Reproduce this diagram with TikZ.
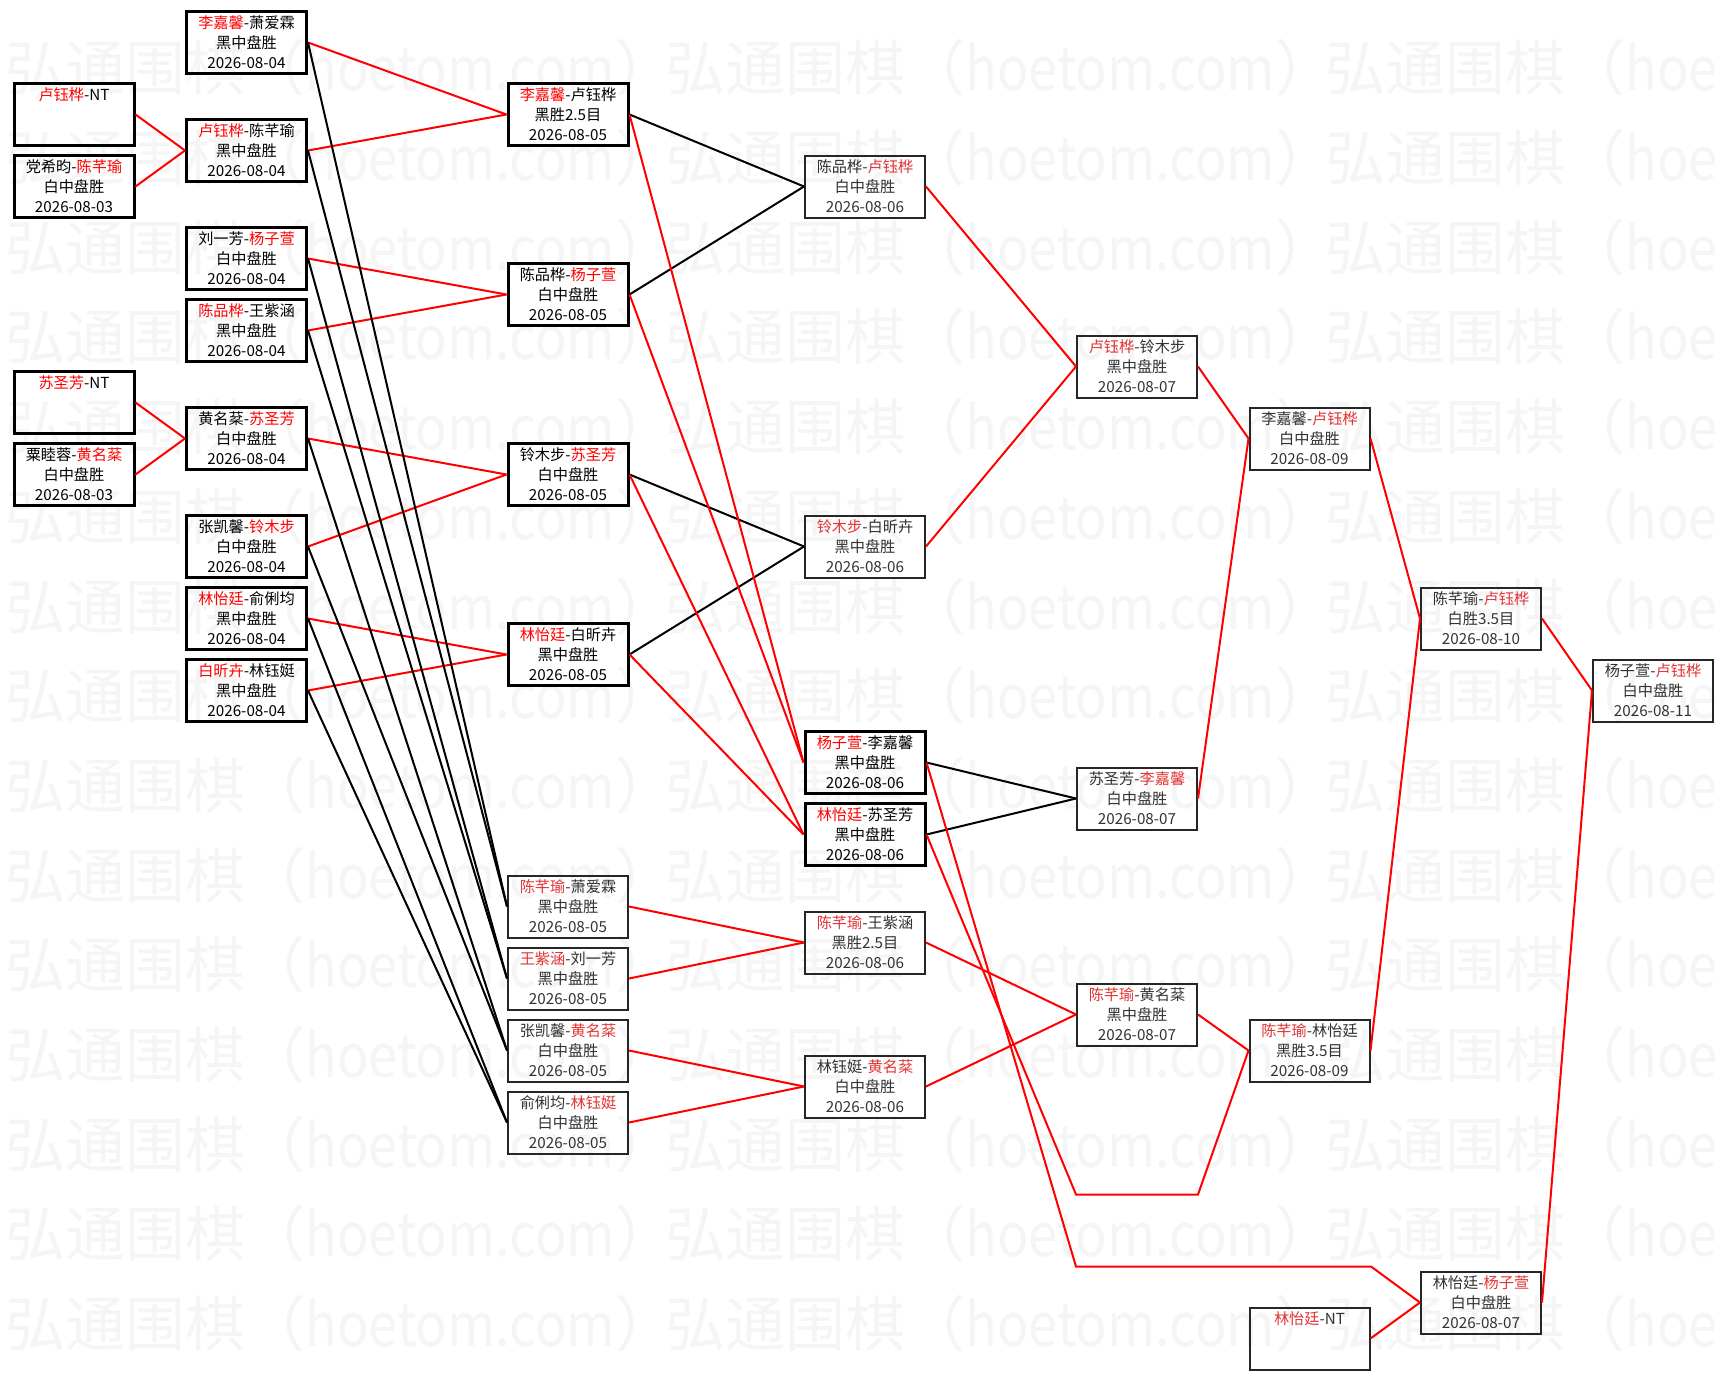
\documentclass[tikz,border=0pt]{standalone}
\usepackage{fontspec}
\setmainfont{Noto Sans CJK SC}
\usepackage{tikz}
\usepackage{xcolor}
\usepackage{graphicx}
\usetikzlibrary{positioning}

\definecolor{lred}{RGB}{226,52,52}
\definecolor{ltxt}{RGB}{50,50,50}
\definecolor{wmgray}{RGB}{245,245,245}
\colorlet{wcol}{red}
\newcommand{\wn}[1]{\textcolor{wcol}{#1}}
\newcommand{\wmlat}[1]{\scalebox{0.87}[1]{#1}}

\begin{document}
\begin{tikzpicture}[x=0.5pt,y=-0.5pt]
        \tikzstyle{main}=[rectangle, draw, minimum width=60pt, minimum height=31pt, inner sep=0pt, align=center, font=\fontsize{7.6pt}{10pt}\selectfont]
        \tikzstyle{wbox}=[main, line width=1.5pt, text=black]
        \tikzstyle{lbox}=[main, line width=1pt, draw=black!85, text=ltxt, execute at begin node={\colorlet{wcol}{lred}}]
        \tikzstyle{adv}=[red, line width=1pt]
        \tikzstyle{drop}=[black, line width=1pt]
        \tikzstyle{wmark}=[text=wmgray, font=\fontsize{30pt}{30pt}\selectfont, inner sep=0pt, anchor=west]
        \useasboundingbox (0,0) rectangle (1725,1381);
        \fill[white] (0,0) rectangle (1725,1381);
        % watermark
        \begin{scope}
          \clip (0,0) rectangle (1725,1381);
          \foreach \r in {0,...,14} {
            \foreach \c in {0,1}
              \node[wmark] (wm\r\c) at ({5+660*\c},{68+89.7*\r}) {弘通围棋（\wmlat{hoetom.com}）};
            \node[wmark] (wm\r2) at (1325,{68+89.7*\r}) {弘通围棋（\wmlat{hoe}};
          }
        \end{scope}
        % first round
        \node[wbox] (q1) at (74,114.5) {\wn{卢钰桦}-NT\\\phantom{黑中盘胜}\\\phantom{2026-08-03}};
        \node[wbox] (q2) at (74,186.5) {党希昀-\wn{陈芊瑜}\\白中盘胜\\2026-08-03};
        \node[wbox] (q3) at (74,402.5) {\wn{苏圣芳}-NT\\\phantom{黑中盘胜}\\\phantom{2026-08-03}};
        \node[wbox] (q4) at (74,474.5) {粟睦蓉-\wn{黄名棻}\\白中盘胜\\2026-08-03};
        % 08-04
        \node[wbox] (a1) at (246.5,42.5) {\wn{李嘉馨}-萧爱霖\\黑中盘胜\\2026-08-04};
        \node[wbox] (a2) at (246.5,150.5) {\wn{卢钰桦}-陈芊瑜\\黑中盘胜\\2026-08-04};
        \node[wbox] (a3) at (246.5,258.5) {刘一芳-\wn{杨子萱}\\白中盘胜\\2026-08-04};
        \node[wbox] (a4) at (246.5,330.5) {\wn{陈品桦}-王紫涵\\黑中盘胜\\2026-08-04};
        \node[wbox] (a5) at (246.5,438.5) {黄名棻-\wn{苏圣芳}\\白中盘胜\\2026-08-04};
        \node[wbox] (a6) at (246.5,546.5) {张凯馨-\wn{铃木步}\\白中盘胜\\2026-08-04};
        \node[wbox] (a7) at (246.5,618.5) {\wn{林怡廷}-俞俐均\\黑中盘胜\\2026-08-04};
        \node[wbox] (a8) at (246.5,690.5) {\wn{白昕卉}-林钰娗\\黑中盘胜\\2026-08-04};
        % 08-05
        \node[wbox] (b1) at (568,114.5) {\wn{李嘉馨}-卢钰桦\\黑胜2.5目\\2026-08-05};
        \node[wbox] (b2) at (568,294.5) {陈品桦-\wn{杨子萱}\\白中盘胜\\2026-08-05};
        \node[wbox] (b3) at (568,474.5) {铃木步-\wn{苏圣芳}\\白中盘胜\\2026-08-05};
        \node[wbox] (b4) at (568,654.5) {\wn{林怡廷}-白昕卉\\黑中盘胜\\2026-08-05};
        \node[lbox] (b5) at (568,906.5) {\wn{陈芊瑜}-萧爱霖\\黑中盘胜\\2026-08-05};
        \node[lbox] (b6) at (568,978.5) {\wn{王紫涵}-刘一芳\\黑中盘胜\\2026-08-05};
        \node[lbox] (b7) at (568,1050.5) {张凯馨-\wn{黄名棻}\\白中盘胜\\2026-08-05};
        \node[lbox] (b8) at (568,1122.5) {俞俐均-\wn{林钰娗}\\白中盘胜\\2026-08-05};
        % 08-06
        \node[lbox] (c1) at (865,186.5) {陈品桦-\wn{卢钰桦}\\白中盘胜\\2026-08-06};
        \node[lbox] (c2) at (865,546.5) {\wn{铃木步}-白昕卉\\黑中盘胜\\2026-08-06};
        \node[wbox] (c3) at (865,762.5) {\wn{杨子萱}-李嘉馨\\黑中盘胜\\2026-08-06};
        \node[wbox] (c4) at (865,834.5) {\wn{林怡廷}-苏圣芳\\黑中盘胜\\2026-08-06};
        \node[lbox] (c5) at (865,942.5) {\wn{陈芊瑜}-王紫涵\\黑胜2.5目\\2026-08-06};
        \node[lbox] (c6) at (865,1086.5) {林钰娗-\wn{黄名棻}\\白中盘胜\\2026-08-06};
        % 08-07
        \node[lbox] (d1) at (1137,366.5) {\wn{卢钰桦}-铃木步\\黑中盘胜\\2026-08-07};
        \node[lbox] (d2) at (1137,798.5) {苏圣芳-\wn{李嘉馨}\\白中盘胜\\2026-08-07};
        \node[lbox] (d3) at (1137,1014.5) {\wn{陈芊瑜}-黄名棻\\黑中盘胜\\2026-08-07};
        % 08-09
        \node[lbox] (e1) at (1309.5,438.5) {李嘉馨-\wn{卢钰桦}\\白中盘胜\\2026-08-09};
        \node[lbox] (e2) at (1309.5,1050.5) {\wn{陈芊瑜}-林怡廷\\黑胜3.5目\\2026-08-09};
        \node[lbox] (e3) at (1309.5,1338.5) {\wn{林怡廷}-NT\\\phantom{黑中盘胜}\\\phantom{2026-08-03}};
        % 08-10, 08-11
        \node[lbox] (f1) at (1481,618.5) {陈芊瑜-\wn{卢钰桦}\\白胜3.5目\\2026-08-10};
        \node[lbox] (f2) at (1481,1302.5) {林怡廷-\wn{杨子萱}\\白中盘胜\\2026-08-07};
        \node[lbox] (g1) at (1653,690.5) {杨子萱-\wn{卢钰桦}\\白中盘胜\\2026-08-11};
        \coordinate (k1) at (1076,1194.5);
        \coordinate (k2) at (1198,1194.5);
        \coordinate (k3) at (1076,1266.5);
        \coordinate (k4) at (1371,1266.5);
        \path (q1.east) edge [adv] (a2.west)
        (q2.east) edge [adv] (a2.west)
        (q3.east) edge [adv] (a5.west)
        (q4.east) edge [adv] (a5.west)
        (a1.east) edge [adv] (b1.west)
        (a2.east) edge [adv] (b1.west)
        (a3.east) edge [adv] (b2.west)
        (a4.east) edge [adv] (b2.west)
        (a5.east) edge [adv] (b3.west)
        (a6.east) edge [adv] (b3.west)
        (a7.east) edge [adv] (b4.west)
        (a8.east) edge [adv] (b4.west)
        (a1.east) edge [drop] (b5.west)
        (a2.east) edge [drop] (b5.west)
        (a3.east) edge [drop] (b6.west)
        (a4.east) edge [drop] (b6.west)
        (a5.east) edge [drop] (b7.west)
        (a6.east) edge [drop] (b7.west)
        (a7.east) edge [drop] (b8.west)
        (a8.east) edge [drop] (b8.west)
        (b1.east) edge [drop] (c1.west)
        (b2.east) edge [drop] (c1.west)
        (b3.east) edge [drop] (c2.west)
        (b4.east) edge [drop] (c2.west)
        (b1.east) edge [adv] (c3.west)
        (b2.east) edge [adv] (c3.west)
        (b3.east) edge [adv] (c4.west)
        (b4.east) edge [adv] (c4.west)
        (b5.east) edge [adv] (c5.west)
        (b6.east) edge [adv] (c5.west)
        (b7.east) edge [adv] (c6.west)
        (b8.east) edge [adv] (c6.west)
        (c1.east) edge [adv] (d1.west)
        (c2.east) edge [adv] (d1.west)
        (c3.east) edge [drop] (d2.west)
        (c4.east) edge [drop] (d2.west)
        (c5.east) edge [adv] (d3.west)
        (c6.east) edge [adv] (d3.west)
        (d1.east) edge [adv] (e1.west)
        (d2.east) edge [adv] (e1.west)
        (d3.east) edge [adv] (e2.west)
        (e1.east) edge [adv] (f1.west)
        (e2.east) edge [adv] (f1.west)
        (e3.east) edge [adv] (f2.west)
        (f1.east) edge [adv] (g1.west)
        (f2.east) edge [adv] (g1.west);
        \draw [adv] (c4.east) -- (k1) -- (k2) -- (e2.west);
        \draw [adv] (c3.east) -- (k3) -- (k4) -- (f2.west);
      \end{tikzpicture}
\end{document}
